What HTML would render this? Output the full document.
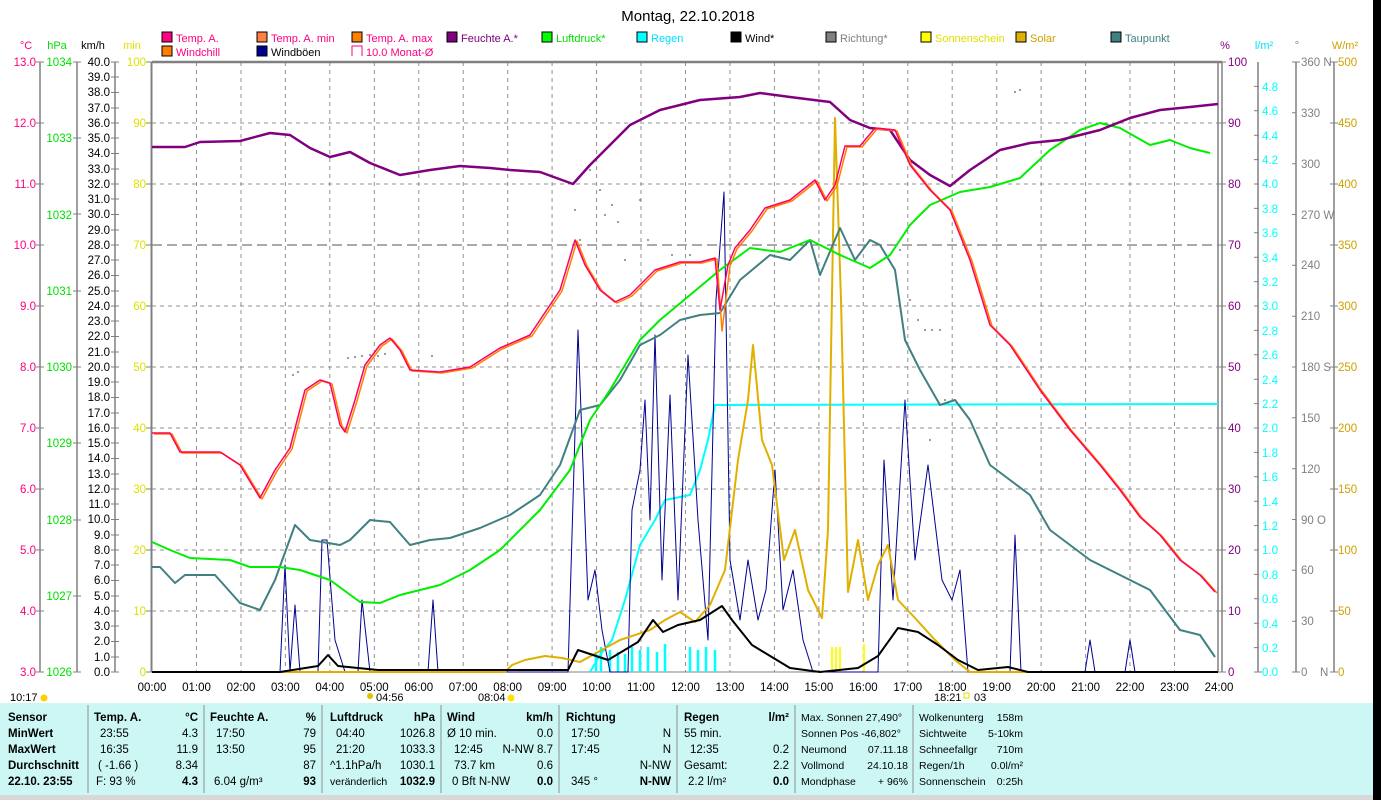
<!DOCTYPE html>
<html><head><meta charset="utf-8"><style>
body{margin:0;width:1381px;height:800px;background:#fff;overflow:hidden;font-family:"Liberation Sans",sans-serif}
svg text{font-family:"Liberation Sans",sans-serif;font-size:11.5px}
</style></head><body>
<svg width="1381" height="800" viewBox="0 0 1381 800" xmlns="http://www.w3.org/2000/svg">
<rect x="1373" y="0" width="8" height="800" fill="#000"/>
<text x="688" y="21" text-anchor="middle" style="font-size:15px">Montag, 22.10.2018</text>
<g style="font-size:11px">
<rect x="162" y="32" width="10" height="10" fill="#ff0080" stroke="#000"/><text x="176" y="42" fill="#ff0080" style="font-size:11px">Temp. A.</text>
<rect x="257" y="32" width="10" height="10" fill="#ff8040" stroke="#000"/><text x="271" y="42" fill="#ff0080" style="font-size:11px">Temp. A. min</text>
<rect x="352" y="32" width="10" height="10" fill="#ff8000" stroke="#000"/><text x="366" y="42" fill="#ff0080" style="font-size:11px">Temp. A. max</text>
<rect x="447" y="32" width="10" height="10" fill="#800080" stroke="#000"/><text x="461" y="42" fill="#800080" style="font-size:11px">Feuchte A.*</text>
<rect x="542" y="32" width="10" height="10" fill="#00ff00" stroke="#000"/><text x="556" y="42" fill="#00e000" style="font-size:11px">Luftdruck*</text>
<rect x="637" y="32" width="10" height="10" fill="#00ffff" stroke="#000"/><text x="651" y="42" fill="#00e0ff" style="font-size:11px">Regen</text>
<rect x="731" y="32" width="10" height="10" fill="#000" stroke="#000"/><text x="745" y="42" style="font-size:11px">Wind*</text>
<rect x="826" y="32" width="10" height="10" fill="#808080" stroke="#000"/><text x="840" y="42" fill="#808080" style="font-size:11px">Richtung*</text>
<rect x="921" y="32" width="10" height="10" fill="#ffff00" stroke="#000"/><text x="935" y="42" fill="#e0e000" style="font-size:11px">Sonnenschein</text>
<rect x="1016" y="32" width="10" height="10" fill="#e0b000" stroke="#000"/><text x="1030" y="42" fill="#d0a000" style="font-size:11px">Solar</text>
<rect x="1111" y="32" width="10" height="10" fill="#408080" stroke="#000"/><text x="1125" y="42" fill="#408080" style="font-size:11px">Taupunkt</text>
<rect x="162" y="46" width="10" height="10" fill="#ff8000" stroke="#000"/><text x="176" y="56" fill="#ff0080" style="font-size:11px">Windchill</text>
<rect x="257" y="46" width="10" height="10" fill="#000090" stroke="#000"/><text x="271" y="56" style="font-size:11px">Windböen</text>
<path d="M352 56V46H362V56" fill="none" stroke="#ff0080"/><text x="366" y="56" fill="#ff0080" style="font-size:11px">10.0 Monat-Ø</text>
</g>
<g>
<text x="26" y="49" fill="#ff0080" text-anchor="middle" style="font-size:11px">°C</text>
<text x="57" y="49" fill="#00e000" text-anchor="middle" style="font-size:11px">hPa</text>
<text x="93" y="49" text-anchor="middle" style="font-size:11px">km/h</text>
<text x="132" y="49" fill="#e0e000" text-anchor="middle" style="font-size:11px">min</text>
<text x="1225" y="49" fill="#800080" text-anchor="middle" style="font-size:11px">%</text>
<text x="1264" y="49" fill="#00e0ff" text-anchor="middle" style="font-size:11px">l/m²</text>
<text x="1297" y="49" fill="#808080" text-anchor="middle" style="font-size:11px">°</text>
<text x="1345" y="49" fill="#d0a000" text-anchor="middle" style="font-size:11px">W/m²</text>
</g>
<g stroke="#808080" stroke-width="1.5">
<line x1="40" y1="62" x2="40" y2="672"/><line x1="77" y1="62" x2="77" y2="672"/>
<line x1="115" y1="62" x2="115" y2="672"/>
<line x1="1258" y1="62" x2="1258" y2="672"/><line x1="1296" y1="62" x2="1296" y2="672"/><line x1="1334" y1="62" x2="1334" y2="672"/>
</g>
<g stroke="#909090" stroke-dasharray="4,4" stroke-width="1">
<line x1="152" y1="123" x2="1218" y2="123"/><line x1="152" y1="184" x2="1218" y2="184"/>
<line x1="152" y1="306" x2="1218" y2="306"/><line x1="152" y1="367" x2="1218" y2="367"/>
<line x1="152" y1="428" x2="1218" y2="428"/><line x1="152" y1="489" x2="1218" y2="489"/>
<line x1="152" y1="550" x2="1218" y2="550"/><line x1="152" y1="611" x2="1218" y2="611"/>
<line x1="196.5" y1="62" x2="196.5" y2="672"/><line x1="241" y1="62" x2="241" y2="672"/><line x1="285.4" y1="62" x2="285.4" y2="672"/><line x1="329.8" y1="62" x2="329.8" y2="672"/><line x1="374.3" y1="62" x2="374.3" y2="672"/><line x1="418.8" y1="62" x2="418.8" y2="672"/><line x1="463.2" y1="62" x2="463.2" y2="672"/><line x1="507.7" y1="62" x2="507.7" y2="672"/><line x1="552.1" y1="62" x2="552.1" y2="672"/><line x1="596.6" y1="62" x2="596.6" y2="672"/><line x1="641" y1="62" x2="641" y2="672"/><line x1="685.5" y1="62" x2="685.5" y2="672"/><line x1="730" y1="62" x2="730" y2="672"/><line x1="774.4" y1="62" x2="774.4" y2="672"/><line x1="818.9" y1="62" x2="818.9" y2="672"/><line x1="863.3" y1="62" x2="863.3" y2="672"/><line x1="907.8" y1="62" x2="907.8" y2="672"/><line x1="952.2" y1="62" x2="952.2" y2="672"/><line x1="996.7" y1="62" x2="996.7" y2="672"/><line x1="1041.1" y1="62" x2="1041.1" y2="672"/><line x1="1085.6" y1="62" x2="1085.6" y2="672"/><line x1="1130" y1="62" x2="1130" y2="672"/><line x1="1174.5" y1="62" x2="1174.5" y2="672"/>
</g>
<line x1="152" y1="245" x2="1218" y2="245" stroke="#555" stroke-dasharray="10,5"/>
<g stroke="#808080" fill="none">
<path d="M152 62H1222" stroke-width="2.5"/>
<path d="M151.5 62V672" stroke-width="2"/>
<path d="M1218 62V672M1222 62V672" stroke-width="1.5"/>
<path d="M152 672H1218" stroke-width="1"/>
</g>
<g fill="#ff0080" text-anchor="end">
<text x="36" y="66">13.0</text><text x="36" y="127">12.0</text><text x="36" y="188">11.0</text><text x="36" y="249">10.0</text><text x="36" y="310">9.0</text><text x="36" y="371">8.0</text><text x="36" y="432">7.0</text><text x="36" y="493">6.0</text><text x="36" y="554">5.0</text><text x="36" y="615">4.0</text><text x="36" y="676">3.0</text>
</g>
<g fill="#00e000" text-anchor="end">
<text x="72" y="66">1034</text><text x="72" y="142">1033</text><text x="72" y="219">1032</text><text x="72" y="295">1031</text><text x="72" y="371">1030</text><text x="72" y="447">1029</text><text x="72" y="524">1028</text><text x="72" y="600">1027</text><text x="72" y="676">1026</text>
</g>
<g stroke="#808080">
<path d="M36 62h8M36 123h8M36 184h8M36 245h8M36 306h8M36 367h8M36 428h8M36 489h8M36 550h8M36 611h8M36 672h8"/>
<path d="M73 62h8M73 138h8M73 214h8M73 291h8M73 367h8M73 443h8M73 520h8M73 596h8M73 672h8"/>
<path d="M146 62h6M146 123h6M146 184h6M146 245h6M146 306h6M146 367h6M146 428h6M146 489h6M146 550h6M146 611h6M146 672h6"/>
<path d="M1218 62h8M1218 123h8M1218 184h8M1218 245h8M1218 306h8M1218 367h8M1218 428h8M1218 489h8M1218 550h8M1218 611h8M1218 672h8"/>
<path d="M1330 62h8M1330 123h8M1330 184h8M1330 245h8M1330 306h8M1330 367h8M1330 428h8M1330 489h8M1330 550h8M1330 611h8M1330 672h8"/>
<path d="M1292 62h8M1292 112.8h4M1292 163.7h4M1292 214.5h4M1292 265.3h4M1292 316.2h4M1292 367h4M1292 417.8h4M1292 468.7h4M1292 519.5h4M1292 570.3h4M1292 621.2h4M1292 672h8"/>
</g>
<g text-anchor="end">
<text x="110" y="676">0.0</text><text x="110" y="661">1.0</text><text x="110" y="645">2.0</text><text x="110" y="630">3.0</text><text x="110" y="615">4.0</text><text x="110" y="600">5.0</text><text x="110" y="584">6.0</text><text x="110" y="569">7.0</text><text x="110" y="554">8.0</text><text x="110" y="539">9.0</text><text x="110" y="523">10.0</text><text x="110" y="508">11.0</text><text x="110" y="493">12.0</text><text x="110" y="478">13.0</text><text x="110" y="462">14.0</text><text x="110" y="447">15.0</text><text x="110" y="432">16.0</text><text x="110" y="417">17.0</text><text x="110" y="401">18.0</text><text x="110" y="386">19.0</text><text x="110" y="371">20.0</text><text x="110" y="356">21.0</text><text x="110" y="340">22.0</text><text x="110" y="325">23.0</text><text x="110" y="310">24.0</text><text x="110" y="295">25.0</text><text x="110" y="279">26.0</text><text x="110" y="264">27.0</text><text x="110" y="249">28.0</text><text x="110" y="234">29.0</text><text x="110" y="218">30.0</text><text x="110" y="203">31.0</text><text x="110" y="188">32.0</text><text x="110" y="173">33.0</text><text x="110" y="157">34.0</text><text x="110" y="142">35.0</text><text x="110" y="127">36.0</text><text x="110" y="112">37.0</text><text x="110" y="96">38.0</text><text x="110" y="81">39.0</text><text x="110" y="66">40.0</text>
</g>
<path stroke="#808080" d="M111 62h8M111 77h8M111 92.5h8M111 108h8M111 123h8M111 138h8M111 153.5h8M111 169h8M111 184h8M111 199h8M111 214.5h8M111 230h8M111 245h8M111 260h8M111 275.5h8M111 291h8M111 306h8M111 321h8M111 336.5h8M111 352h8M111 367h8M111 382h8M111 397.5h8M111 413h8M111 428h8M111 443h8M111 458.5h8M111 474h8M111 489h8M111 504h8M111 519.5h8M111 535h8M111 550h8M111 565h8M111 580.5h8M111 596h8M111 611h8M111 626h8M111 641.5h8M111 657h8M111 672h8"/>
<g fill="#e0e000" text-anchor="end">
<text x="146" y="66">100</text><text x="146" y="127">90</text><text x="146" y="188">80</text><text x="146" y="249">70</text><text x="146" y="310">60</text><text x="146" y="371">50</text><text x="146" y="432">40</text><text x="146" y="493">30</text><text x="146" y="554">20</text><text x="146" y="615">10</text><text x="146" y="676">0</text>
</g>
<g fill="#800080">
<text x="1228" y="66">100</text><text x="1228" y="127">90</text><text x="1228" y="188">80</text><text x="1228" y="249">70</text><text x="1228" y="310">60</text><text x="1228" y="371">50</text><text x="1228" y="432">40</text><text x="1228" y="493">30</text><text x="1228" y="554">20</text><text x="1228" y="615">10</text><text x="1228" y="676">0</text>
</g>
<path stroke="#808080" d="M1254 86.4h5M1254 110.8h5M1254 135.2h5M1254 159.6h5M1254 184h5M1254 208.4h5M1254 232.8h5M1254 257.2h5M1254 281.6h5M1254 306h5M1254 330.4h5M1254 354.8h5M1254 379.2h5M1254 403.6h5M1254 428h5M1254 452.4h5M1254 476.8h5M1254 501.2h5M1254 525.6h5M1254 550h5M1254 574.4h5M1254 598.8h5M1254 623.2h5M1254 647.6h5M1254 672h8"/>
<g fill="#00ffff">
<text x="1262" y="91">4.8</text><text x="1262" y="115">4.6</text><text x="1262" y="140">4.4</text><text x="1262" y="164">4.2</text><text x="1262" y="188">4.0</text><text x="1262" y="213">3.8</text><text x="1262" y="237">3.6</text><text x="1262" y="262">3.4</text><text x="1262" y="286">3.2</text><text x="1262" y="310">3.0</text><text x="1262" y="335">2.8</text><text x="1262" y="359">2.6</text><text x="1262" y="384">2.4</text><text x="1262" y="408">2.2</text><text x="1262" y="432">2.0</text><text x="1262" y="457">1.8</text><text x="1262" y="481">1.6</text><text x="1262" y="506">1.4</text><text x="1262" y="530">1.2</text><text x="1262" y="554">1.0</text><text x="1262" y="579">0.8</text><text x="1262" y="603">0.6</text><text x="1262" y="628">0.4</text><text x="1262" y="652">0.2</text><text x="1262" y="676">0.0</text>
</g>
<g fill="#808080">
<text x="1301" y="66">360 N</text><text x="1301" y="117">330</text><text x="1301" y="168">300</text><text x="1301" y="219">270 W</text><text x="1301" y="269">240</text><text x="1301" y="320">210</text><text x="1301" y="371">180 S</text><text x="1301" y="422">150</text><text x="1301" y="473">120</text><text x="1301" y="524">90 O</text><text x="1301" y="574">60</text><text x="1301" y="625">30</text><text x="1301" y="676">0</text><text x="1320" y="676">N</text>
</g>
<g fill="#d0a000">
<text x="1338" y="66">500</text><text x="1338" y="127">450</text><text x="1338" y="188">400</text><text x="1338" y="249">350</text><text x="1338" y="310">300</text><text x="1338" y="371">250</text><text x="1338" y="432">200</text><text x="1338" y="493">150</text><text x="1338" y="554">100</text><text x="1338" y="615">50</text><text x="1338" y="676">0</text>
</g>
<g text-anchor="middle">
<text x="152" y="691">00:00</text><text x="196.5" y="691">01:00</text><text x="241" y="691">02:00</text><text x="285.4" y="691">03:00</text><text x="329.8" y="691">04:00</text><text x="374.3" y="691">05:00</text><text x="418.8" y="691">06:00</text><text x="463.2" y="691">07:00</text><text x="507.7" y="691">08:00</text><text x="552.1" y="691">09:00</text><text x="596.6" y="691">10:00</text><text x="641" y="691">11:00</text><text x="685.5" y="691">12:00</text><text x="730" y="691">13:00</text><text x="774.4" y="691">14:00</text><text x="818.9" y="691">15:00</text><text x="863.3" y="691">16:00</text><text x="907.8" y="691">17:00</text><text x="952.2" y="691">18:00</text><text x="996.7" y="691">19:00</text><text x="1041.1" y="691">20:00</text><text x="1085.6" y="691">21:00</text><text x="1130" y="691">22:00</text><text x="1174.5" y="691">23:00</text><text x="1219" y="691">24:00</text>
</g>
<g>
<text x="10" y="701" style="font-size:11px">10:17</text><circle cx="44" cy="698" r="3.5" fill="#ffd000"/>
<circle cx="370" cy="696" r="3" fill="#e0c000"/><text x="376" y="701" style="font-size:11px">04:56</text>
<text x="478" y="701" style="font-size:11px">08:04</text><circle cx="511" cy="698" r="3.5" fill="#ffe000"/>
<text x="934" y="701" style="font-size:11px">18:21</text><rect x="964" y="693" width="5" height="5" fill="none" stroke="#e0e000"/><text x="974" y="701" style="font-size:11px">03</text>
</g>
<!-- direction dots -->
<g fill="#808080">
<circle cx="293" cy="375" r="1"/><circle cx="298" cy="372" r="1"/><circle cx="348" cy="358" r="1"/><circle cx="355" cy="357" r="1"/><circle cx="362" cy="356" r="1"/><circle cx="370" cy="355" r="1"/><circle cx="378" cy="356" r="1"/><circle cx="385" cy="354" r="1"/><circle cx="432" cy="356" r="1"/>
<circle cx="575" cy="210" r="1"/><circle cx="580" cy="240" r="1"/><circle cx="590" cy="170" r="1"/><circle cx="600" cy="190" r="1"/><circle cx="605" cy="215" r="1"/><circle cx="612" cy="205" r="1"/><circle cx="618" cy="222" r="1"/><circle cx="625" cy="260" r="1"/><circle cx="640" cy="200" r="1"/><circle cx="648" cy="240" r="1"/><circle cx="672" cy="255" r="1"/><circle cx="690" cy="255" r="1"/>
<circle cx="900" cy="250" r="1"/><circle cx="910" cy="300" r="1"/><circle cx="918" cy="320" r="1"/><circle cx="925" cy="330" r="1"/><circle cx="932" cy="330" r="1"/><circle cx="940" cy="330" r="1"/><circle cx="930" cy="440" r="1"/><circle cx="945" cy="400" r="1"/><circle cx="1015" cy="92" r="1"/><circle cx="1020" cy="90" r="1"/>
</g>
<g fill="none" stroke-linejoin="round">
<path stroke="#00ffff" stroke-width="2.5" d="M596 672v-20M601 672v-25M610 672v-22M618 672v-20M625 672v-18M632 672v-25M640 672v-22M648 672v-25M657 672v-20M665 672v-28M690 672v-25M698 672v-22M706 672v-25M715 672v-22"/>
<path stroke="#ffff00" stroke-width="2" d="M832 672v-25M836 672v-25M840 672v-25M864 672v-28"/>
<polyline stroke="#00ffff" stroke-width="2" points="590,672 600,655 612,640 625,600 640,545 655,520 665,500 690,495 700,470 708,440 715,405 1218,404"/>
<polyline stroke="#000090" stroke-width="1" points="280,672 285,565 290,672 295,605 300,672 318,672 322,540 327,540 335,640 345,672 358,672 362,600 370,672 428,672 433,600 438,672 568,672 578,330 588,600 595,570 602,630 610,672 628,672 632,510 640,470 645,400 650,520 655,335 662,580 670,395 678,600 688,355 698,520 708,640 716,300 724,192 730,560 740,620 748,560 758,620 766,590 775,470 783,610 793,570 803,640 813,672 878,672 884,460 893,600 905,400 915,560 928,465 942,580 952,600 960,570 968,672 1010,672 1015,535 1021,672 1085,672 1090,640 1095,672 1125,672 1130,640 1135,672"/>
<polyline stroke="#e0b000" stroke-width="2" points="152,672 505,672 512,665 525,660 545,656 562,658 580,662 598,652 620,640 650,630 665,620 680,612 695,622 710,605 725,570 738,460 748,400 753,345 762,440 772,465 784,560 795,530 808,590 822,618 828,530 835,118 841,300 848,592 858,540 868,600 878,565 888,545 898,600 915,618 935,640 955,660 970,672 1218,672"/>
<polyline stroke="#000" stroke-width="2" points="152,672 280,672 318,666 328,655 338,666 378,670 568,670 578,650 608,660 638,642 653,620 663,632 678,625 700,620 722,606 732,620 752,645 790,668 820,672 858,668 878,656 898,628 918,632 938,645 958,660 978,670 1008,667 1028,672 1218,672"/>
<polyline stroke="#408080" stroke-width="2" points="152,567 160,567 175,583 185,575 215,575 240,603 260,610 275,580 295,525 310,540 340,545 350,540 370,520 390,522 410,545 430,540 450,538 480,528 510,515 540,495 560,465 580,410 600,405 620,380 640,345 660,335 680,320 700,315 720,313 740,280 770,255 790,260 810,240 820,275 840,228 855,260 870,240 880,245 895,270 905,340 920,370 940,405 955,400 970,420 990,465 1010,480 1030,495 1050,530 1070,545 1090,560 1110,570 1130,580 1150,590 1180,630 1200,635 1215,657"/>
<polyline stroke="#00ee00" stroke-width="2" points="152,542 170,550 190,558 230,560 250,567 280,567 300,570 330,580 360,602 380,603 400,595 440,585 470,570 500,550 540,510 570,470 590,420 610,390 640,340 660,320 690,295 720,270 750,248 780,252 810,240 840,255 870,268 890,255 910,225 930,205 960,192 990,187 1020,178 1050,150 1080,130 1100,123 1120,128 1150,145 1170,140 1190,148 1210,153"/>
<polyline stroke="#800080" stroke-width="2.5" points="152,147 185,147 200,142 240,141 270,133 290,135 310,148 330,157 350,152 370,163 400,175 430,170 460,166 490,168 510,170 540,172 573,184 590,165 610,145 630,125 660,110 700,100 740,97 760,93 790,97 830,102 850,120 870,128 890,130 910,160 930,175 950,186 970,170 1000,150 1030,143 1060,140 1100,130 1130,118 1160,110 1190,107 1218,104"/>
<polyline stroke="#ff8000" stroke-width="1.5" transform="translate(2,1)" points="152,433 170,433 180,452 220,452 240,465 260,498 275,470 290,448 305,390 320,380 330,383 340,425 345,432 355,400 365,365 380,345 390,338 400,350 410,370 440,372 470,367 500,348 530,335 540,320 560,290 575,240 585,265 600,290 615,302 630,295 645,280 655,270 680,262 700,262 715,258 720,330 728,265 735,248 750,230 765,208 790,200 805,188 815,180 825,200 835,185 845,146 860,146 875,128 895,130 910,165 930,190 950,210 970,260 990,325 1010,345 1040,390 1070,430 1100,465 1120,490 1140,517 1160,535 1180,560 1200,575 1215,592"/>
<polyline stroke="#ff0060" stroke-width="1.5" points="152,433 170,433 180,452 220,452 240,465 260,498 275,470 290,448 305,390 320,380 330,383 340,425 345,432 355,400 365,365 380,345 390,338 400,350 410,370 440,372 470,367 500,348 530,335 540,320 560,290 575,240 585,265 600,290 615,302 630,295 645,280 655,270 680,262 700,262 715,258 720,310 728,265 735,248 750,230 765,208 790,200 805,188 815,180 825,200 835,185 845,146 860,146 875,128 895,130 910,165 930,190 950,210 970,260 990,325 1010,345 1040,390 1070,430 1100,465 1120,490 1140,517 1160,535 1180,560 1200,575 1215,592"/>
</g>
<rect x="0" y="703" width="1373" height="92" fill="#ccf7f4"/>
<rect x="0" y="795" width="1373" height="5" fill="#d8d8d8"/>
<g stroke="#909090"><path d="M88 705V793M204 705V793M322 705V793M441 705V793M559 705V793M677 705V793M795 705V793M913 705V793"/></g>
<g>
<g font-weight="bold"><text x="8" y="721">Sensor</text><text x="8" y="737">MinWert</text><text x="8" y="753">MaxWert</text><text x="8" y="769">Durchschnitt</text><text x="8" y="785">22.10. 23:55</text>
<text x="94" y="721">Temp. A.</text><text x="198" y="721" text-anchor="end">°C</text>
<text x="210" y="721">Feuchte A.</text><text x="316" y="721" text-anchor="end">%</text>
<text x="330" y="721">Luftdruck</text><text x="435" y="721" text-anchor="end">hPa</text>
<text x="447" y="721">Wind</text><text x="553" y="721" text-anchor="end">km/h</text>
<text x="566" y="721">Richtung</text>
<text x="684" y="721">Regen</text><text x="789" y="721" text-anchor="end">l/m²</text>
<text x="198" y="785" text-anchor="end">4.3</text><text x="316" y="785" text-anchor="end">93</text><text x="435" y="785" text-anchor="end">1032.9</text><text x="553" y="785" text-anchor="end">0.0</text><text x="671" y="785" text-anchor="end">N-NW</text><text x="789" y="785" text-anchor="end">0.0</text></g>
<text x="100" y="737">23:55</text><text x="198" y="737" text-anchor="end">4.3</text>
<text x="100" y="753">16:35</text><text x="198" y="753" text-anchor="end">11.9</text>
<text x="98" y="769">( -1.66 )</text><text x="198" y="769" text-anchor="end">8.34</text>
<text x="96" y="785">F: 93 %</text>
<text x="216" y="737">17:50</text><text x="316" y="737" text-anchor="end">79</text>
<text x="216" y="753">13:50</text><text x="316" y="753" text-anchor="end">95</text>
<text x="316" y="769" text-anchor="end">87</text><text x="214" y="785">6.04 g/m³</text>
<text x="336" y="737">04:40</text><text x="435" y="737" text-anchor="end">1026.8</text>
<text x="336" y="753">21:20</text><text x="435" y="753" text-anchor="end">1033.3</text>
<text x="330" y="769">^1.1hPa/h</text><text x="435" y="769" text-anchor="end">1030.1</text>
<text x="330" y="785" style="font-size:10.5px">veränderlich</text>
<text x="447" y="737">Ø 10 min.</text><text x="553" y="737" text-anchor="end">0.0</text>
<text x="454" y="753">12:45</text><text x="553" y="753" text-anchor="end">N-NW 8.7</text>
<text x="454" y="769">73.7 km</text><text x="553" y="769" text-anchor="end">0.6</text>
<text x="452" y="785">0 Bft N-NW</text>
<text x="571" y="737">17:50</text><text x="671" y="737" text-anchor="end">N</text>
<text x="571" y="753">17:45</text><text x="671" y="753" text-anchor="end">N</text>
<text x="671" y="769" text-anchor="end">N-NW</text><text x="571" y="785">345 °</text>
<text x="684" y="737">55 min.</text>
<text x="690" y="753">12:35</text><text x="789" y="753" text-anchor="end">0.2</text>
<text x="684" y="769">Gesamt:</text><text x="789" y="769" text-anchor="end">2.2</text>
<text x="688" y="785">2.2 l/m²</text>
<text x="801" y="721" style="font-size:10.5px">Max. Sonnen 27,490°</text><text x="801" y="737" style="font-size:10.5px">Sonnen Pos -46,802°</text>
<text x="801" y="753" style="font-size:10.5px">Neumond</text><text x="908" y="753" text-anchor="end" style="font-size:10.5px">07.11.18</text>
<text x="801" y="769" style="font-size:10.5px">Vollmond</text><text x="908" y="769" text-anchor="end" style="font-size:10.5px">24.10.18</text>
<text x="801" y="785" style="font-size:10.5px">Mondphase</text><text x="908" y="785" text-anchor="end" style="font-size:10.5px">+ 96%</text>
<text x="919" y="721" style="font-size:10.5px">Wolkenunterg</text><text x="1023" y="721" text-anchor="end" style="font-size:10.5px">158m</text>
<text x="919" y="737" style="font-size:10.5px">Sichtweite</text><text x="1023" y="737" text-anchor="end" style="font-size:10.5px">5-10km</text>
<text x="919" y="753" style="font-size:10.5px">Schneefallgr</text><text x="1023" y="753" text-anchor="end" style="font-size:10.5px">710m</text>
<text x="919" y="769" style="font-size:10.5px">Regen/1h</text><text x="1023" y="769" text-anchor="end" style="font-size:10.5px">0.0l/m²</text>
<text x="919" y="785" style="font-size:10.5px">Sonnenschein</text><text x="1023" y="785" text-anchor="end" style="font-size:10.5px">0:25h</text>
</g>
</svg>
</body></html>
